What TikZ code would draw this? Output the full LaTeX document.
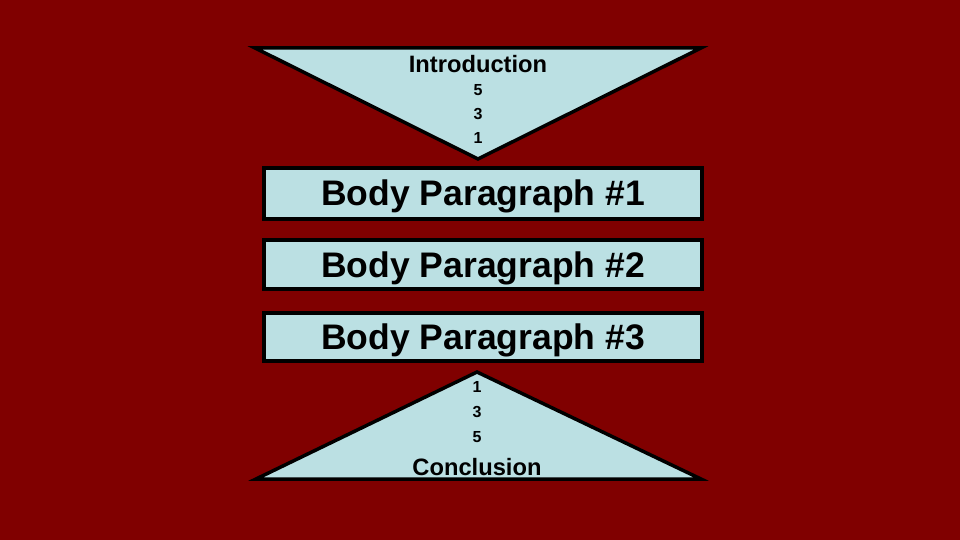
\documentclass[tikz,border=0pt]{standalone}
\usepackage{fontspec}
\setmainfont{Liberation Sans}
\definecolor{bgred}{RGB}{128,0,0}
\definecolor{paleblue}{RGB}{187,224,227}
\tikzset{
  shapebox/.style={draw=black, line width=3.5pt, fill=paleblue, line join=miter},
  bigtext/.style={anchor=base, inner sep=0pt, font=\fontsize{35.5}{40}\selectfont\bfseries},
  midtext/.style={anchor=base, inner sep=0pt, font=\fontsize{23.7}{28}\selectfont\bfseries},
  smalltext/.style={anchor=base, inner sep=0pt, font=\fontsize{16}{20}\selectfont\bfseries}
}
\begin{document}
\begin{tikzpicture}[x=1pt,y=-1pt]
\fill[bgred] (0,0) rectangle (960,540);
\useasboundingbox (0,0) rectangle (960,540);
% top funnel
\draw[shapebox] (255,48) -- (701,48) -- (478,159) -- cycle;
\node[midtext] (intro) at (478,73) {Introduction};
\node[smalltext] (i5) at (478,96) {5};
\node[smalltext] (i3) at (478,120) {3};
\node[smalltext] (i1) at (478,144) {1};
% body boxes
\draw[shapebox] (264,168) rectangle (702,219);
\node[bigtext] (bp1) at (483,205) {Body Paragraph \#1};
\draw[shapebox] (264,240) rectangle (702,289);
\node[bigtext] (bp2) at (483,277) {Body Paragraph \#2};
\draw[shapebox] (264,313) rectangle (702,361);
\node[bigtext] (bp3) at (483,349) {Body Paragraph \#3};
% bottom pyramid
\draw[shapebox] (477,372) -- (701,479) -- (256,479) -- cycle;
\node[smalltext] (c1) at (477,392) {1};
\node[smalltext] (c3) at (477,417) {3};
\node[smalltext] (c5) at (477,442) {5};
\node[midtext] (concl) at (477,475) {Conclusion};
\end{tikzpicture}
\end{document}
